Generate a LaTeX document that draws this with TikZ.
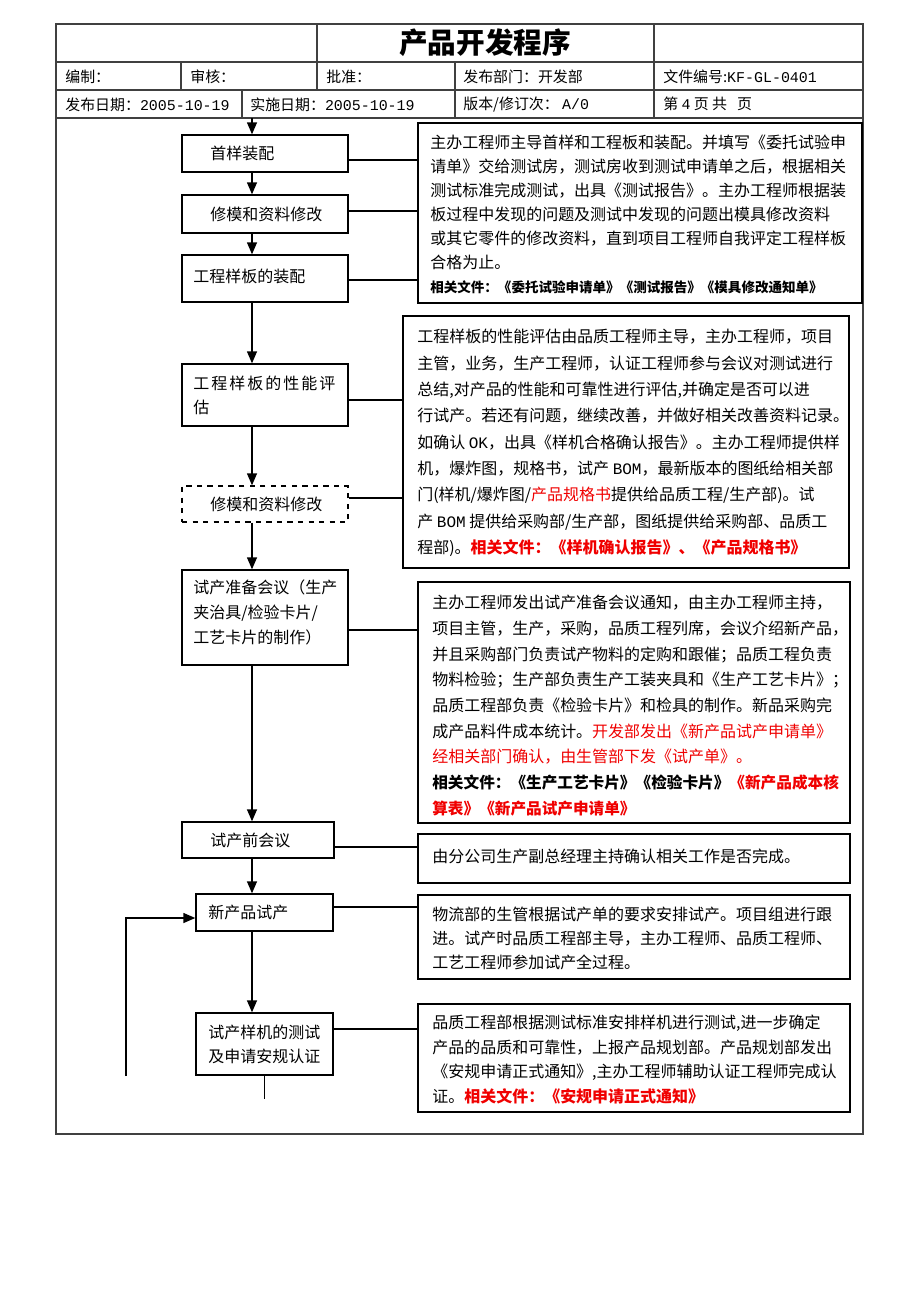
\documentclass[tikz,border=0pt]{standalone}
\usepackage{fontspec}
\setmainfont{Noto Sans CJK SC}
\newfontfamily\latin{Liberation Mono}
\usetikzlibrary{arrows.meta,fit}
\definecolor{docred}{RGB}{240,0,0}
\tikzset{
  box/.style={draw, line width=0.8pt, inner sep=0pt},
  dbox/.style={box, dashed},
  frame/.style={draw=black!75, line width=0.6pt},
  txt/.style={inner sep=0pt, anchor=west, align=left, font=\fontsize{9.1pt}{14pt}\selectfont},
  para/.style={inner sep=0pt, anchor=north west, align=left},
  head/.style={inner sep=0pt, anchor=west, font=\fontsize{8.5pt}{10pt}\selectfont},
  arr/.style={-{Triangle[length=2.4mm,width=2mm]}, line width=0.8pt},
  link/.style={line width=0.6pt},
}
\begin{document}
\begin{tikzpicture}[x=0.02cm,y=-0.02cm]
\fill[white] (0,0) rectangle (920,1302);
\useasboundingbox (0,0) rectangle (920,1302);
% header table
\draw[frame] (56,24) rectangle (863,1134);
\draw[frame] (56,62) -- (863,62) (56,90) -- (863,90) (56,118) -- (863,118);
\draw[frame] (317,24) -- (317,90) (654,24) -- (654,118) (181,62) -- (181,90);
\draw[frame] (455,62) -- (455,118) (242,90) -- (242,118);
\node[font=\fontsize{16.3pt}{18pt}\selectfont\bfseries] (title) at (485,43) {产品开发程序};
\node[head] (h1) at (65,77) {编制：};
\node[head] (h2) at (190,77) {审核：};
\node[head] (h3) at (326,77) {批准：};
\node[head] (h4) at (463,77) {发布部门：开发部};
\node[head] (h5) at (663,77) {文件编号:{\latin KF-GL-0401}};
\node[head] (h6) at (65,105) {发布日期：{\latin 2005-10-19}};
\node[head] (h7) at (250,105) {实施日期：{\latin 2005-10-19}};
\node[head] (h8) at (463,105) {版本/修订次：\ {\latin A/0}};
\node[head] (h9) at (663,104) {第 {\latin 4} 页 共 \ \ 页};
% left column
\node[box, fit={(182,135) (348,172)}] (b1) {};
\node[txt] (l1) at (210,153.5) {首样装配};
\node[box, fit={(182,195) (348,233)}] (b2) {};
\node[txt] (l2) at (210,214) {修模和资料修改};
\node[box, fit={(182,255) (348,302)}] (b3) {};
\node[txt] (l3) at (193,276) {工程样板的装配};
\node[box, fit={(182,364) (348,426)}] (b4) {};
\node[txt] (l4) at (193,395.5) {\addfontfeature{LetterSpace=12.5}工程样板的性能评\\估};
\node[dbox, fit={(182,486) (348,522)}] (b5) {};
\node[txt] (l5) at (210,504) {修模和资料修改};
\node[box, fit={(182,570) (348,665)}] (b6) {};
\node[txt] (l6) at (193,612.5) {试产准备会议（生产\\夹治具/检验卡片/\\工艺卡片的制作）};
\node[box, fit={(182,822) (334,858)}] (b7) {};
\node[txt] (l7) at (210,840) {试产前会议};
\node[box, fit={(196,894) (333,931)}] (b8) {};
\node[txt] (l8) at (208,912.5) {新产品试产};
\node[box, fit={(196,1013) (333,1075)}] (b9) {};
\node[txt] (l9) at (208,1044.5) {试产样机的测试\\及申请安规认证};
% flow
\coordinate (ax) at (252,118);
\draw[arr] (ax) -- (ax |- b1.north);
\draw[arr] (ax |- b1.south) -- (ax |- b2.north);
\draw[arr] (ax |- b2.south) -- (ax |- b3.north);
\draw[arr] (ax |- b3.south) -- (ax |- b4.north);
\draw[arr] (ax |- b4.south) -- (ax |- b5.north);
\draw[arr] (ax |- b5.south) -- (ax |- b6.north);
\draw[arr] (ax |- b6.south) -- (ax |- b7.north);
\draw[arr] (ax |- b7.south) -- (ax |- b8.north);
\draw[arr] (ax |- b8.south) -- (ax |- b9.north);
\coordinate (lp) at (126,1076);
\draw[arr] (lp) -- (lp |- 0,918) -- (b8.west |- 0,918);
\draw[link] (b9.south) -- ++(0,23);
% right column
\node[box, fit={(418,123) (862,303)}] (rA) {};
\node[para, font=\fontsize{9.1pt}{13.66pt}\selectfont] (tA) at (430,135) {主办工程师主导首样和工程板和装配。并填写《委托试验申\\
请单》交给测试房，测试房收到测试申请单之后，根据相关\\
测试标准完成测试，出具《测试报告》。主办工程师根据装\\
板过程中发现的问题及测试中发现的问题出模具修改资料\\
或其它零件的修改资料，直到项目工程师自我评定工程样板\\
合格为止。\\
{\fontsize{7.7pt}{13.66pt}\selectfont\bfseries 相关文件：《委托试验申请单》《测试报告》《模具修改通知单》}};
\node[box, fit={(403,316) (849,568)}] (rB) {};
\node[para, font=\fontsize{9.1pt}{15pt}\selectfont] (tB) at (417,329) {工程样板的性能评估由品质工程师主导，主办工程师，项目\\
主管，业务，生产工程师，认证工程师参与会议对测试进行\\
总结,对产品的性能和可靠性进行评估,并确定是否可以进\\
行试产。若还有问题，继续改善，并做好相关改善资料记录。\\
如确认 {\latin OK}，出具《样机合格确认报告》。主办工程师提供样\\
机，爆炸图，规格书，试产 {\latin BOM}，最新版本的图纸给相关部\\
门(样机/爆炸图/{\color{docred}产品规格书}提供给品质工程/生产部)。试\\
产 {\latin BOM} 提供给采购部/生产部，图纸提供给采购部、品质工\\
程部)。{\color{docred}\bfseries 相关文件：《样机确认报告》、《产品规格书》}};
\node[box, fit={(418,582) (850,823)}] (rC) {};
\node[para, font=\fontsize{9.1pt}{14.6pt}\selectfont] (tC) at (432,595) {主办工程师发出试产准备会议通知，由主办工程师主持，\\
项目主管，生产，采购，品质工程列席，会议介绍新产品，\\
并且采购部门负责试产物料的定购和跟催；品质工程负责\\
物料检验；生产部负责生产工装夹具和《生产工艺卡片》；\\
品质工程部负责《检验卡片》和检具的制作。新品采购完\\
成产品料件成本统计。{\color{docred}开发部发出《新产品试产申请单》}\\
{\color{docred}经相关部门确认，由生管部下发《试产单》。}\\
{\fontsize{8.9pt}{14.6pt}\selectfont\bfseries 相关文件：《生产工艺卡片》《检验卡片》\color{docred}《新产品成本核}\\
{\fontsize{8.9pt}{14.6pt}\selectfont\color{docred}\bfseries 算表》《新产品试产申请单》}};
\node[box, fit={(418,834) (850,883)}] (rD) {};
\node[para, font=\fontsize{9.1pt}{13.7pt}\selectfont] (tD) at (432,849) {由分公司生产副总经理主持确认相关工作是否完成。};
\node[box, fit={(418,895) (850,979)}] (rE) {};
\node[para, font=\fontsize{9.1pt}{13.7pt}\selectfont] (tE) at (432,907) {物流部的生管根据试产单的要求安排试产。项目组进行跟\\
进。试产时品质工程部主导，主办工程师、品质工程师、\\
工艺工程师参加试产全过程。};
\node[box, fit={(418,1004) (850,1112)}] (rF) {};
\node[para, font=\fontsize{9.1pt}{13.9pt}\selectfont] (tF) at (432,1015) {品质工程部根据测试标准安排样机进行测试,进一步确定\\
产品的品质和可靠性，上报产品规划部。产品规划部发出\\
《安规申请正式通知》,主办工程师辅助认证工程师完成认\\
证。{\color{docred}\bfseries 相关文件：《安规申请正式通知》}};
% links
\draw[link] (b1.east |- 0,160) -- (rA.west |- 0,160);
\draw[link] (b2.east |- 0,211) -- (rA.west |- 0,211);
\draw[link] (b3.east |- 0,280) -- (rA.west |- 0,280);
\draw[link] (b4.east |- 0,400) -- (rB.west |- 0,400);
\draw[link] (b5.east |- 0,498) -- (rB.west |- 0,498);
\draw[link] (b6.east |- 0,630) -- (rC.west |- 0,630);
\draw[link] (b7.east |- 0,847) -- (rD.west |- 0,847);
\draw[link] (b8.east |- 0,907) -- (rE.west |- 0,907);
\draw[link] (b9.east |- 0,1029) -- (rF.west |- 0,1029);
\end{tikzpicture}
\end{document}
